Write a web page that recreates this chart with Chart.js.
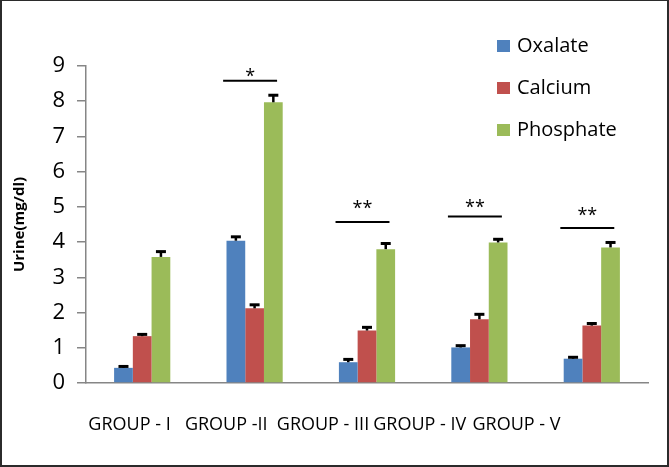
<!DOCTYPE html>
<html>
<head>
<meta charset="utf-8">
<script src="https://cdn.jsdelivr.net/npm/chart.js@4/dist/chart.umd.min.js"></script>
<style>
  html, body { margin: 0; padding: 0; background: #fff; }
  #frame {
    width: 669px; height: 467px; box-sizing: border-box;
    border: 2px solid #2b2b2b; border-top-width: 1px; background: #fff;
  }
  canvas { display: block; }
</style>
</head>
<body>
<div id="frame"><canvas id="chart" width="665" height="464"></canvas></div>
<script>
// data
const groups = ['GROUP - I', 'GROUP -II', 'GROUP - III', 'GROUP - IV', 'GROUP - V'];
const oxalate = [0.43, 4.04, 0.59, 1.01, 0.69];
const calcium = [1.33, 2.12, 1.49, 1.81, 1.63];
const phosphate = [3.58, 7.97, 3.80, 3.99, 3.85];
const oxalateErr = [0.04, 0.11, 0.08, 0.05, 0.04];
const calciumErr = [0.05, 0.10, 0.09, 0.14, 0.06];
const phosphateErr = [0.15, 0.20, 0.16, 0.09, 0.14];
const sigMarks = ['', '*', '**', '**', '**'];
const sigLineLevel = [null, 8.58, 4.57, 4.73, 4.40];
const sigStarLevel = [null, 8.87, 5.10, 5.14, 4.90];
const yTicks = [0, 1, 2, 3, 4, 5, 6, 7, 8, 9];

Chart.defaults.font.family = '"Open Sans", "Liberation Sans", sans-serif';
Chart.defaults.color = '#000';

const AXIS_GREY = '#868686';

// error bars (upper half only, like the original)
const errorBars = {
  id: 'errorBars',
  afterDatasetsDraw(chart) {
    const { ctx } = chart;
    const y = chart.scales.y;
    chart.data.datasets.forEach((ds, di) => {
      const meta = chart.getDatasetMeta(di);
      meta.data.forEach((bar, i) => {
        const err = ds.errors[i];
        if (!err) return;
        const top = y.getPixelForValue(ds.data[i] + err);
        ctx.save();
        ctx.strokeStyle = '#000';
        ctx.lineWidth = 2.5;
        ctx.beginPath();
        ctx.moveTo(bar.x, bar.y);
        ctx.lineTo(bar.x, top);
        ctx.stroke();
        ctx.lineWidth = 3;
        ctx.beginPath();
        ctx.moveTo(bar.x - 5, top);
        ctx.lineTo(bar.x + 5, top);
        ctx.stroke();
        ctx.restore();
      });
    });
  }
};

// significance bars with asterisks
const sigPlugin = {
  id: 'sigPlugin',
  afterDatasetsDraw(chart) {
    const { ctx } = chart;
    const x = chart.scales.x;
    const y = chart.scales.y;
    const step = x.getPixelForValue(1) - x.getPixelForValue(0);
    sigMarks.forEach((mark, i) => {
      if (!mark) return;
      const cx = x.getPixelForValue(i);
      const ly = y.getPixelForValue(sigLineLevel[i]);
      ctx.save();
      ctx.strokeStyle = '#000';
      ctx.lineWidth = 2;
      ctx.beginPath();
      ctx.moveTo(cx - 0.28 * step, ly);
      ctx.lineTo(cx + 0.20 * step, ly);
      ctx.stroke();
      ctx.fillStyle = '#000';
      ctx.font = '18px "Open Sans"';
      ctx.textAlign = 'center';
      ctx.textBaseline = 'alphabetic';
      ctx.fillText(mark, cx - 0.04 * step, y.getPixelForValue(sigStarLevel[i]) + 11);
      ctx.restore();
    });
  }
};

// legend drawn inside the plot, top right
const sideLegend = {
  id: 'sideLegend',
  afterDraw(chart) {
    const { ctx } = chart;
    ctx.save();
    ctx.font = '20px "Open Sans"';
    ctx.textBaseline = 'middle';
    ctx.textAlign = 'left';
    chart.data.datasets.forEach((ds, i) => {
      const cy = 45 + i * 42;
      ctx.fillStyle = ds.backgroundColor;
      ctx.fillRect(495, cy - 6, 13, 12);
      ctx.fillStyle = '#000';
      ctx.fillText(ds.label, 515, cy);
    });
    ctx.restore();
  }
};

new Chart(document.getElementById('chart'), {
  type: 'bar',
  data: {
    labels: groups,
    datasets: [
      { label: 'Oxalate', data: oxalate, errors: oxalateErr, backgroundColor: '#4F81BD' },
      { label: 'Calcium', data: calcium, errors: calciumErr, backgroundColor: '#C0504D' },
      { label: 'Phosphate', data: phosphate, errors: phosphateErr, backgroundColor: '#9BBB59' },
    ],
  },
  options: {
    responsive: false,
    animation: false,
    categoryPercentage: 0.5,
    barPercentage: 1.0,
    layout: { padding: { top: 65, right: 19, bottom: 0, left: 0 } },
    plugins: {
      legend: { display: false },
      tooltip: { enabled: false },
    },
    scales: {
      x: {
        type: 'category',
        grid: { display: false, drawTicks: false },
        border: { color: AXIS_GREY, width: 1.5 },
        ticks: { display: false },
        afterFit: (s) => { s.height = 0; },
      },
      // label row: the original's group labels sit on a tighter pitch than the bars
      x2: {
        type: 'linear',
        position: 'bottom',
        offset: false,
        min: -0.45,
        max: 5.36,
        grid: { display: false, drawTicks: false, offset: false },
        border: { display: false },
        afterBuildTicks: (s) => { s.ticks = groups.map((_, i) => ({ value: i })); },
        ticks: {
          autoSkip: false,
          maxRotation: 0,
          padding: 31,
          font: { size: 18 },
          callback: (v) => groups[v],
        },
        afterFit: (s) => { s.height = 82; },
      },
      y: {
        min: 0,
        max: 9,
        afterBuildTicks: (s) => { s.ticks = yTicks.map((v) => ({ value: v })); },
        grid: { drawOnChartArea: false, tickLength: 9, color: AXIS_GREY, lineWidth: 1.5 },
        border: { color: AXIS_GREY, width: 1.5 },
        ticks: { padding: 12, font: { size: 22 } },
        title: {
          display: true,
          text: 'Urine(mg/dl)',
          font: { size: 15, weight: 'bold' },
          padding: { top: 9, bottom: 0 },
        },
        afterFit: (s) => { s.width = 84; },
      },
    },
  },
  plugins: [errorBars, sigPlugin, sideLegend],
});
</script>
</body>
</html>
